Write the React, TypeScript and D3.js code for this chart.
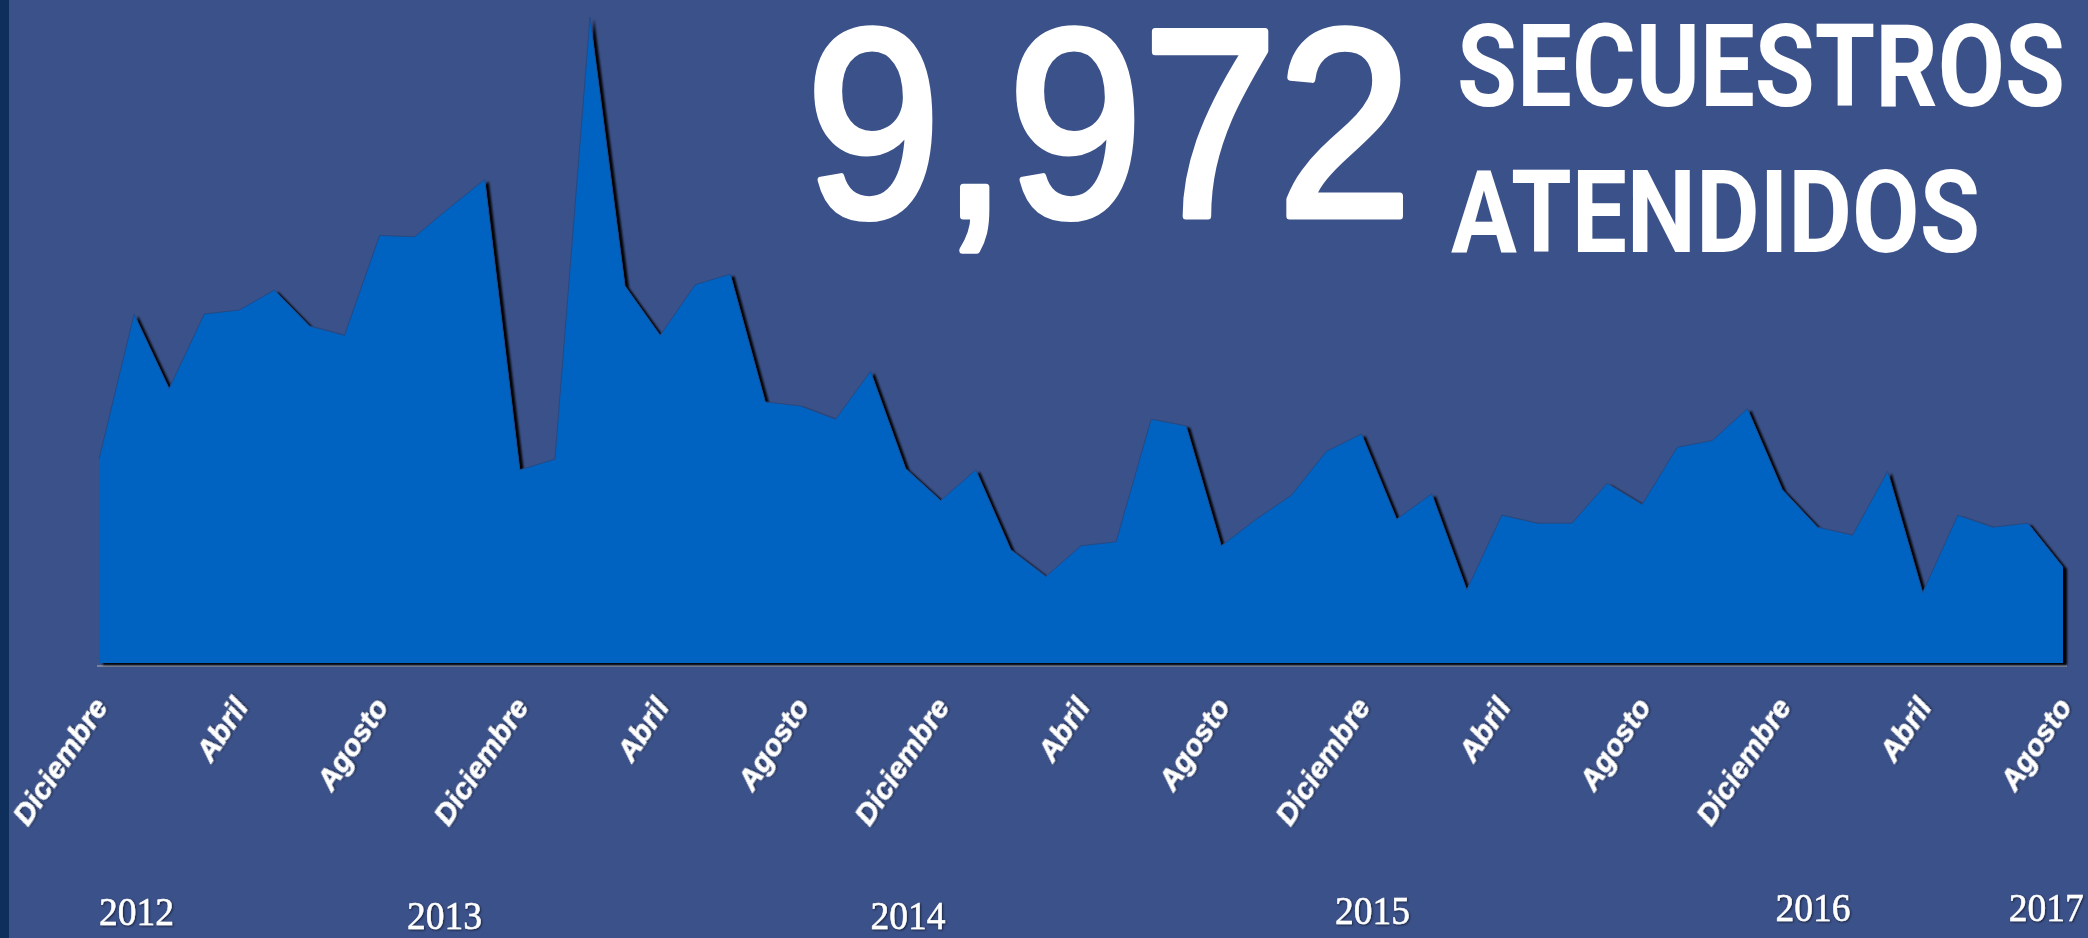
import React from 'react';
import * as d3 from 'd3';

// Monthly kidnappings attended, Dec 2012 .. Aug 2017
const values: number[] = [
  153, 262, 206, 262, 265, 280, 253, 246, 321, 320, 342, 363,
  145, 153, 485, 283, 246, 284, 292, 196, 193, 183, 219, 146,
  122, 145, 85, 65, 88, 91, 183, 178, 88, 108, 126, 159,
  172, 108, 127, 55, 111, 105, 105, 135, 119, 162, 167, 191,
  130, 102, 96, 144, 53, 111, 102, 105, 72,
];

const tickLabels: string[] = [
  'Diciembre', 'Abril', 'Agosto',
  'Diciembre', 'Abril', 'Agosto',
  'Diciembre', 'Abril', 'Agosto',
  'Diciembre', 'Abril', 'Agosto',
  'Diciembre', 'Abril', 'Agosto',
];
const tickEvery = 4;

const years: string[] = ['2012', '2013', '2014', '2015', '2016', '2017'];
// layout: anchor of each year label in month-index units and its baseline
const yearAnchors: number[] = [0, 8.78, 22.0, 35.24, 47.8, 54.45];
const yearBaselines: number[] = [925, 929, 929, 924, 921, 921];

const totalLabel = '9,972';
const titleLines: string[] = ['SECUESTROS', 'ATENDIDOS'];

const W = 2088;
const H = 938;

export default function App() {
  const x = d3.scaleLinear().domain([0, values.length - 1]).range([99, 2063]);
  const y = d3.scaleLinear().domain([0, 500]).range([663, -3]);
  const area = d3
    .area<number>()
    .x((_, i) => x(i))
    .y0(y(0))
    .y1((d) => y(d));
  const line = d3
    .line<number>()
    .x((_, i) => x(i))
    .y((d) => y(d));

  const ticks = tickLabels.map((t, k) => ({ label: t, idx: k * tickEvery }));

  return (
    <svg
      width={W}
      height={H}
      viewBox={`0 0 ${W} ${H}`}
      style={{ position: 'absolute', left: 0, top: 0, display: 'block' }}
    >
      <defs>
        <filter id="areaShadow" x="-2%" y="-5%" width="104%" height="110%">
          <feDropShadow dx="4" dy="2" stdDeviation="0.8" floodColor="#000" floodOpacity="1" />
        </filter>
        <filter id="txtShadow" x="-10%" y="-10%" width="120%" height="120%">
          <feDropShadow dx="1" dy="1" stdDeviation="0.8" floodColor="#000" floodOpacity="0.6" />
        </filter>
      </defs>
      <rect x={0} y={0} width={W} height={H} fill="#3b5189" />
      <rect x={0} y={0} width={9} height={H} fill="#0e2f5c" />

      <line x1={97} x2={2067} y1={666} y2={666} stroke="#8f949e" strokeWidth={1.5} />
      <path d={area(values) || ''} fill="#0264c2" filter="url(#areaShadow)" />
      <path d={line(values) || ''} fill="none" stroke="#234a86" strokeWidth={1} />

      {ticks.map((t) => (
        <text
          key={t.idx}
          transform={`translate(${x(t.idx) + 10},${707}) rotate(-56)`}
          textAnchor="end"
          fontFamily="'Liberation Sans', Arial, sans-serif"
          fontWeight="bold"
          fontStyle="italic"
          fontSize={30}
          fill="#ffffff"
          stroke="#ffffff"
          strokeWidth={0.6}
          filter="url(#txtShadow)"
        >
          {t.label}
        </text>
      ))}

      {years.map((yr, i) => (
        <text
          key={yr}
          x={x(yearAnchors[i])}
          y={yearBaselines[i]}
          fontFamily="'Liberation Serif', 'Times New Roman', serif"
          fontSize={40}
          fill="#ffffff"
          stroke="#ffffff"
          strokeWidth={0.5}
          textLength={75}
          lengthAdjust="spacingAndGlyphs"
          filter="url(#txtShadow)"
        >
          {yr}
        </text>
      ))}

      <text
        x={806}
        y={216}
        fontFamily="'Liberation Sans', Arial, sans-serif"
        fontSize={268}
        fill="#ffffff"
        stroke="#ffffff"
        strokeWidth={7}
        strokeLinejoin="round"
        textLength={606}
        lengthAdjust="spacingAndGlyphs"
      >
        {totalLabel}
      </text>
      <text
        x={1457}
        y={106}
        fontFamily="Roboto, sans-serif"
        fontWeight={700}
        fontSize={115}
        fill="#ffffff"
        textLength={608}
        lengthAdjust="spacingAndGlyphs"
      >
        {titleLines[0]}
      </text>
      <text
        x={1451}
        y={252}
        fontFamily="Roboto, sans-serif"
        fontWeight={700}
        fontSize={115}
        fill="#ffffff"
        textLength={529}
        lengthAdjust="spacingAndGlyphs"
      >
        {titleLines[1]}
      </text>
    </svg>
  );
}
